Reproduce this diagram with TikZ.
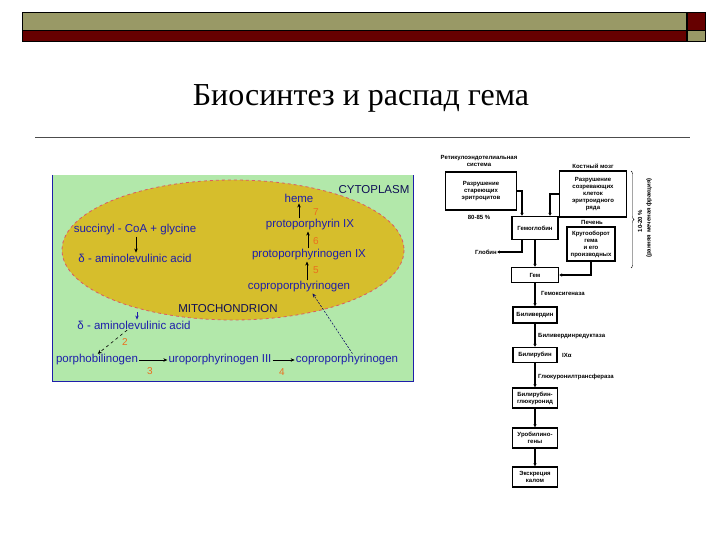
\documentclass[tikz,border=0pt]{standalone}
\usepackage{fontspec}
\setmainfont{Liberation Serif}
\setsansfont{Liberation Sans}
\usetikzlibrary{positioning,arrows.meta,decorations.pathreplacing}
\definecolor{barolive}{RGB}{153,153,102}
\definecolor{barred}{RGB}{102,0,0}
\definecolor{cellgreen}{RGB}{178,232,170}
\definecolor{mitoyellow}{RGB}{214,190,44}
\definecolor{mitoedge}{RGB}{220,90,100}
\definecolor{txtblue}{RGB}{30,30,170}
\definecolor{numorange}{RGB}{235,110,30}
\begin{document}
\begin{tikzpicture}
[x=1pt,y=-1pt,%
  every node/.style={inner sep=0pt},
  lbl/.style={text=txtblue,font=\sffamily\fontsize{11.5}{12}\selectfont},
  dark/.style={lbl,text=txtblue!50!black},
  num/.style={text=numorange,font=\sffamily\fontsize{10}{11}\selectfont},
  conv/.style={-{Stealth[length=4pt,width=3.5pt]},semithick,shorten <=1pt,shorten >=1pt},
  fbox/.style={draw,line width=1.1pt,align=center,font=\sffamily\bfseries\fontsize{6}{7}\selectfont},
  ftxt/.style={align=center,font=\sffamily\bfseries\fontsize{6}{7}\selectfont},
  farrow/.style={line width=1.5pt,-{Latex[length=3pt,width=3.5pt]}}]
\useasboundingbox (0,0) rectangle (720,540);

% top bar
\draw[fill=barolive] (22,12) rectangle (686,30);
\draw[fill=barred] (22,30) rectangle (686,41);
\draw[fill=barred] (687,12) rectangle (705,30);
\draw[fill=barolive] (687,30) rectangle (705,41);

% title
\node[font=\fontsize{32}{34}\selectfont] (title) at (361,98) {Биосинтез и распад гема};
\draw[black!70] (35,137) -- (690,137);

% cell and mitochondrion
\fill[cellgreen] (52,175) rectangle (413,381);
\draw[txtblue,line width=1pt] (52,175) -- (52,381) -- (413,381) -- (413,175);
\draw[fill=mitoyellow,draw=mitoedge,dashed,thick] (233,250) ellipse [x radius=171,y radius=70];

\node[dark] (cyto) at (374,190) {CYTOPLASM};
\node[dark] (mito) at (228,309) {MITOCHONDRION};
\node[lbl] (heme) at (299,198) {heme};
\node[lbl] (ppix) at (310,225) {protoporphyrin IX};
\node[lbl] (ppgen) at (309,255) {protoporphyrinogen IX};
\node[lbl] (coprom) at (299,287) {coproporphyrinogen};
\node[lbl] (succ) at (135,230) {succinyl - CoA + glycine};
\node[lbl] (alam) at (135,258) {δ - aminolevulinic acid};
\node[lbl] (alac) at (134,325) {δ - aminolevulinic acid};
\node[lbl] (pbg) at (97,360) {porphobilinogen};
\node[lbl] (uro) at (220,360) {uroporphyrinogen III};
\node[lbl] (coproc) at (347,360) {coproporphyrinogen};

\node[num] (n7) at (316,212) {7};
\node[num] (n6) at (316,241) {6};
\node[num] (n5) at (316,270) {5};
\node[num] (n2) at (125,342) {2};
\node[num] (n3) at (150,371) {3};
\node[num] (n4) at (282,372) {4};

\draw[conv] ([xshift=1pt]succ.south) -- ([xshift=1pt]alam.north);
\draw[conv] ([xshift=-2pt]ppgen.south |- coprom.north) -- ([xshift=-2pt]ppgen.south);
\draw[conv] ([xshift=-2pt]ppix.south |- ppgen.north) -- ([xshift=-2pt]ppix.south);
\draw[conv] (heme.south |- ppix.north) -- (heme.south);
\coordinate (mitoexit) at (137,311);
\draw[conv,txtblue] (mitoexit) -- (mitoexit |- alac.north);
\draw[conv,dashed] ([xshift=-6pt]alac.south) -- (pbg.north);
\draw[conv] (pbg) -- (uro);
\draw[conv] (uro) -- (coproc);
\draw[conv,txtblue!60!black,dash pattern=on 2pt off 1.5pt] ([xshift=6pt]coproc.north) -- ([xshift=13pt]coprom.south);

% breakdown of heme
\node[ftxt] (res) at (479,161) {Ретикулоэндотелиальная\\система};
\node[fbox,minimum width=71pt,minimum height=38pt] (rbc) at (481,191) {Разрушение\\стареющих\\эритроцитов};
\node[ftxt] (pct) at (479,217) {80-85 \%};
\node[fbox,minimum width=46pt,minimum height=23pt] (hb) at (535,228) {Гемоглобин};
\node[ftxt] (bmtitle) at (593,166) {Костный мозг};
\node[fbox,minimum width=67pt,minimum height=46pt] (bm) at (593,194) {Разрушение\\созревающих\\клеток\\эритроидного\\ряда};
\node[ftxt] (livtitle) at (592,222) {Печень};
\node[fbox,minimum width=48pt,minimum height=34pt] (liv) at (591,244) {Кругооборот\\гема\\и его\\производных};
\node[ftxt] (glob) at (486,252) {Глобин};
\node[fbox,minimum width=47pt,minimum height=15pt] (gem) at (535,275) {Гем};
\node[fbox,minimum width=44pt,minimum height=16pt] (bv) at (535,315) {Биливердин};
\node[fbox,minimum width=44pt,minimum height=15pt] (br) at (535,355) {Билирубин};
\node[fbox,minimum width=45pt,minimum height=20pt] (brg) at (535,398) {Билирубин-\\глюкуронид};
\node[fbox,minimum width=45pt,minimum height=20pt] (ubg) at (535,438) {Уробилино-\\гены};
\node[fbox,minimum width=45pt,minimum height=20pt] (exc) at (535,477) {Экскреция\\калом};
\node[ftxt,anchor=west] (hox) at (541,293) {Гемоксигеназа};
\node[ftxt,anchor=west] (bvr) at (538,336) {Биливердинредуктаза};
\node[ftxt,anchor=west] (ixa) at (562,355) {IXα};
\node[ftxt,anchor=west] (ugt) at (538,377) {Глюкуронилтрансфераза};
\node[ftxt,rotate=90] (share) at (640,221) {10-20 \%};
\node[ftxt,rotate=90] (early) at (649,218) {(ранняя меченая фракция)};

\coordinate (bracetop) at (631,171);
\coordinate (bracebot) at (631,268);
\draw[decorate,decoration={brace,amplitude=3pt}] (bracetop) -- (bracebot);

\draw[farrow] (rbc.east) -| ([xshift=-13pt]hb.north);
\draw[farrow] (bm.west) -| ([xshift=15pt]hb.north);
\draw[farrow] ([xshift=-13pt]hb.south) |- (glob.east);
\draw[farrow] (liv.south) |- (gem.east);
\foreach \a/\b in {hb/gem,gem/bv,bv/br,br/brg,brg/ubg,ubg/exc}
  \draw[farrow] (\a) -- (\b);
\end{tikzpicture}
\end{document}
